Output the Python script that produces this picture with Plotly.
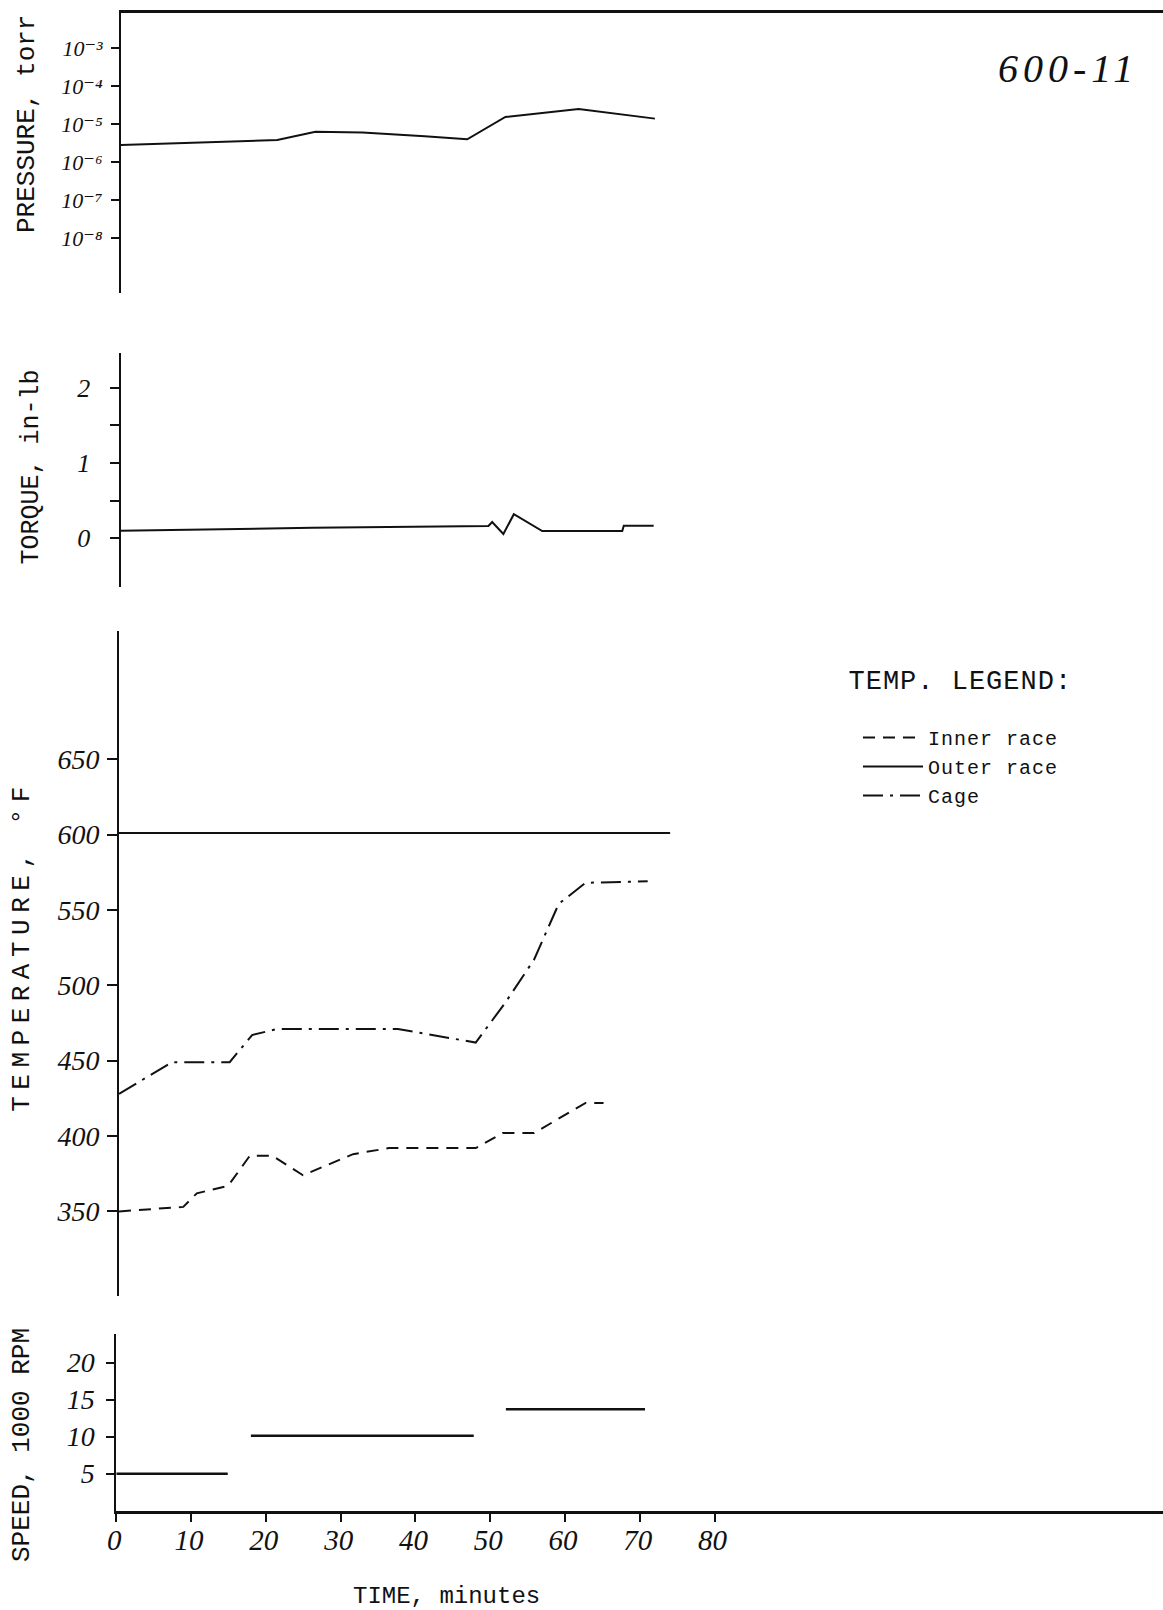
import plotly.graph_objects as go

# ---------------- data ----------------
pressure_time = [0, 20.9, 26.0, 32.3, 40.6, 46.3, 51.4, 61.2, 71.4]
pressure_torr = [2.8e-6, 3.8e-6, 6.3e-6, 6.0e-6, 4.8e-6, 4.0e-6, 1.55e-5, 2.5e-5, 1.4e-5]

torque_time = [0, 25.7, 49.2, 49.7, 51.2, 52.6, 56.4, 67.1, 67.3, 71.3]
torque_inlb = [0.10, 0.14, 0.163, 0.216, 0.057, 0.32, 0.097, 0.097, 0.167, 0.167]

inner_time = [0, 8.6, 10.4, 14.6, 17.5, 20.5, 24.6, 31.3, 36.1, 47.7, 51.3, 55.5, 62.4, 64.8]
inner_temp = [350, 353, 362, 367, 387, 387, 374, 388, 392, 392, 402, 402, 422, 422]

outer_time = [0, 73.7]
outer_temp = [601, 601]

cage_time = [0, 7.1, 14.8, 17.8, 21.1, 37.3, 47.7, 51.6, 55.5, 58.8, 62.4, 70.7]
cage_temp = [428, 449, 449, 467, 471, 471, 462, 488, 517, 554, 568, 569]

speed_time = [0, 14.9, None, 18.0, 47.8, None, 52.1, 70.7]
speed_krpm = [5, 5, None, 10.1, 10.1, None, 13.7, 13.7]

time_ticks = [0, 10, 20, 30, 40, 50, 60, 70, 80]
pressure_ticks = [1e-3, 1e-4, 1e-5, 1e-6, 1e-7, 1e-8]
pressure_ticklabels = ["10⁻³", "10⁻⁴", "10⁻⁵", "10⁻⁶", "10⁻⁷", "10⁻⁸"]
torque_ticks = [0, 1, 2]
torque_minor_ticks = [0.5, 1.5]
temp_ticks = [350, 400, 450, 500, 550, 600, 650]
speed_ticks = [5, 10, 15, 20]

# ---------------- layout helpers ----------------
W, H = 1163, 1610
K = 7.478  # px per minute


def fy(px):
    return 1 - px / H


def fx(px):
    return px / W


INK = "#111111"
MONO = "Liberation Mono"
HAND = dict(family="Liberation Serif, DejaVu Serif", color=INK, style="italic")

fig = go.Figure()

fig.add_trace(go.Scatter(x=pressure_time, y=pressure_torr, mode="lines",
                         line=dict(color=INK, width=2), xaxis="x", yaxis="y",
                         showlegend=False))
fig.add_trace(go.Scatter(x=torque_time, y=torque_inlb, mode="lines",
                         line=dict(color=INK, width=2), xaxis="x2", yaxis="y2",
                         showlegend=False))
fig.add_trace(go.Scatter(x=inner_time, y=inner_temp, mode="lines", name="Inner race",
                         line=dict(color=INK, width=2, dash="12px,8px"),
                         xaxis="x3", yaxis="y3"))
fig.add_trace(go.Scatter(x=outer_time, y=outer_temp, mode="lines", name="Outer race",
                         line=dict(color=INK, width=2), xaxis="x3", yaxis="y3"))
fig.add_trace(go.Scatter(x=cage_time, y=cage_temp, mode="lines", name="Cage",
                         line=dict(color=INK, width=2, dash="20px,7px,3px,7px"),
                         xaxis="x3", yaxis="y3"))
fig.add_trace(go.Scatter(x=speed_time, y=speed_krpm, mode="lines",
                         line=dict(color=INK, width=2.5), xaxis="x4", yaxis="y4",
                         showlegend=False, connectgaps=False))

common_y = dict(showline=True, linecolor=INK, linewidth=2, ticks="outside",
                tickcolor=INK, tickwidth=2, showgrid=False, zeroline=False,
                automargin=False)

fig.update_layout(
    width=W, height=H, autosize=False,
    margin=dict(l=0, r=0, t=0, b=0, pad=0),
    paper_bgcolor="white", plot_bgcolor="white",
    xaxis=dict(domain=[fx(121), 1], range=[0, (W - 121) / K], anchor="y", side="top",
               showline=True, linecolor=INK, linewidth=2.5, ticks="",
               showticklabels=False, showgrid=False, zeroline=False, automargin=False),
    yaxis=dict(domain=[fy(293.3), fy(12.7)], type="log", range=[-9.46, -2.061],
               anchor="x", tickvals=pressure_ticks, ticktext=pressure_ticklabels,
               ticklen=8, tickfont=dict(size=22, **HAND), ticklabelstandoff=4,
               **common_y),
    xaxis2=dict(domain=[fx(120.5), 1], range=[0, (W - 120.5) / K], anchor="y2",
                visible=False, automargin=False),
    yaxis2=dict(domain=[fy(586.7), fy(353.3)], range=[-0.643, 2.457], anchor="x2",
                tickvals=torque_ticks, ticklen=9,
                minor=dict(tickvals=torque_minor_ticks, ticks="outside", ticklen=9,
                           tickwidth=2, tickcolor=INK, showgrid=False),
                tickfont=dict(size=26, **HAND), ticklabelstandoff=14, **common_y),
    xaxis3=dict(domain=[fx(119), 1], range=[0, (W - 119) / K], anchor="y3",
                visible=False, automargin=False),
    yaxis3=dict(domain=[fy(1296), fy(630.7)], range=[293.9, 735.2], anchor="x3",
                tickvals=temp_ticks, ticklen=10, tickfont=dict(size=28, **HAND),
                ticklabelstandoff=2, **common_y),
    xaxis4=dict(domain=[fx(116.3), 1], range=[0, (W - 116.3) / K], anchor="y4",
                showline=True, linecolor=INK, linewidth=2.5, ticks="outside",
                tickcolor=INK, tickwidth=2, ticklen=9, tickvals=time_ticks,
                tickfont=dict(size=29, **HAND), ticklabelstandoff=-7,
                ticklabelshift=-2, showgrid=False, zeroline=False, automargin=False),
    yaxis4=dict(domain=[fy(1510.7), fy(1334)], range=[0, 23.85], anchor="x4",
                tickvals=speed_ticks, ticklen=8, tickfont=dict(size=28, **HAND),
                ticklabelstandoff=6, **common_y),
    legend=dict(x=fx(858), y=fy(718), xanchor="left", yanchor="top",
                font=dict(family=MONO, size=20, color=INK), itemwidth=60,
                bgcolor="rgba(0,0,0,0)", borderwidth=0, tracegroupgap=0),
    showlegend=True,
)

annots = [
    dict(text="PRESSURE, torr", x=fx(27), y=fy(124), size=26),
    dict(text="TORQUE, in-lb", x=fx(31), y=fy(467.5), size=25),
    dict(text="TEMPERATURE, °F", x=fx(22), y=fy(946), size=26),
    dict(text="SPEED, 1000 RPM", x=fx(22), y=fy(1445), size=26),
]
for a in annots:
    fig.add_annotation(text=a["text"], x=a["x"], y=a["y"], xref="paper", yref="paper",
                       xanchor="center", yanchor="middle", textangle=-90,
                       showarrow=False, font=dict(family=MONO, size=a["size"], color=INK))

fig.add_annotation(text="TIME, minutes", x=fx(446.5), y=fy(1596), xref="paper", yref="paper",
                   xanchor="center", yanchor="middle", showarrow=False,
                   font=dict(family=MONO, size=24, color=INK))
fig.add_annotation(text="TEMP. LEGEND:", x=fx(853), y=fy(682), xref="paper", yref="paper",
                   xanchor="left", yanchor="middle", showarrow=False,
                   font=dict(family=MONO, size=27, color=INK))
fig.add_annotation(text="600-11", x=fx(1068), y=fy(69), xref="paper", yref="paper",
                   xanchor="center", yanchor="middle", showarrow=False,
                   font=dict(size=40, **HAND))

post = """
var gd = document.getElementById('{plot_id}');
gd.querySelectorAll('.annotation-text').forEach(function(e){
  var t = e.textContent;
  if (t.indexOf('TEMPERATURE') === 0) { e.style.letterSpacing = '6.5px'; }
  if (t === '600-11') { e.style.letterSpacing = '5px'; }
  if (t === 'TEMP. LEGEND:') { e.style.letterSpacing = '1px'; }
});
gd.querySelectorAll('.legend [clip-path]').forEach(function(e){ e.removeAttribute('clip-path'); });
gd.querySelectorAll('.legendtext').forEach(function(e){ e.style.letterSpacing = '1px'; });
"""

fig.write_html("out.html", post_script=post)
